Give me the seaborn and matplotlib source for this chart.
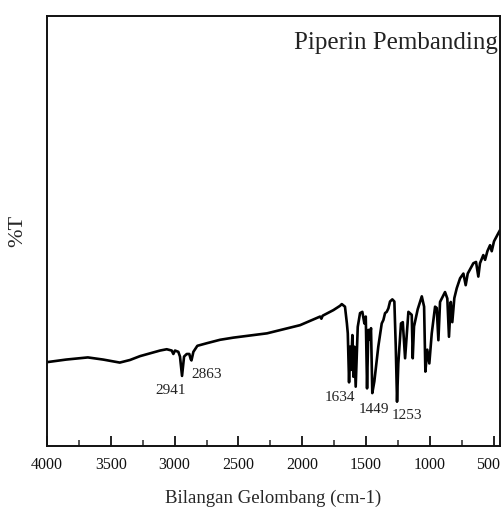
import matplotlib
matplotlib.use("Agg")
import matplotlib.pyplot as plt
import matplotlib.transforms as mtransforms
import seaborn as sns
from matplotlib.ticker import MultipleLocator

# wavenumber (cm-1) and %T
wavenumber = [4000, 3850, 3680, 3560, 3430, 3350, 3271, 3114, 3062, 3023,
              3010, 2997, 2971, 2958, 2942, 2926, 2905, 2885, 2874, 2868,
              2853, 2822, 2748, 2644, 2540, 2276, 2017, 1860, 1850, 1840,
              1756, 1704, 1690, 1665, 1650, 1643, 1633, 1625, 1618, 1607,
              1599, 1592, 1581, 1565, 1547, 1529, 1513, 1502, 1492, 1482,
              1474, 1461, 1451, 1435, 1404, 1377, 1364, 1351, 1338, 1325,
              1312, 1294, 1278, 1267, 1257, 1247, 1226, 1212, 1194, 1168,
              1142, 1134, 1124, 1095, 1063, 1045, 1035, 1020, 1004, 985,
              959, 946, 933, 920, 881, 863, 850, 836, 824, 808,
              789, 763, 737, 719, 703, 659, 638, 620, 607, 581,
              567, 549, 528, 515, 497, 463, 450]
transmittance = [19.5, 20.1, 20.6, 20.1, 19.4, 20.0, 20.9, 22.2, 22.5, 22.2,
                 21.4, 22.2, 21.9, 20.8, 16.3, 20.8, 21.4, 21.4, 20.2, 19.9,
                 21.9, 23.3, 23.9, 24.7, 25.2, 26.2, 28.1, 30.1, 29.6, 30.3,
                 31.6, 32.6, 33.0, 32.4, 28.5, 26.2, 14.8, 23.1, 17.7, 25.8,
                 16.1, 23.1, 13.8, 27.7, 30.9, 31.2, 28.5, 30.1, 13.4, 27.0,
                 24.7, 27.4, 12.3, 15.0, 23.1, 28.5, 29.3, 30.9, 31.2, 32.0,
                 33.6, 34.1, 33.6, 23.1, 10.3, 19.2, 28.5, 28.8, 20.4, 31.2,
                 30.5, 20.4, 27.8, 31.8, 34.8, 32.4, 17.3, 22.4, 19.2, 26.2,
                 32.4, 32.1, 24.6, 33.5, 35.8, 34.3, 25.4, 33.5, 28.8, 34.4,
                 36.7, 39.0, 40.1, 37.4, 40.1, 42.5, 42.8, 39.4, 42.5, 44.4,
                 43.3, 45.3, 46.7, 45.3, 47.6, 49.5, 50.2]

# peak labels: text, label x, label y
peak_labels = ["2941", "2863", "1634", "1449", "1253"]
label_x = [3028, 2750, 1708, 1441, 1179]
label_y = [12.8, 16.7, 11.2, 8.4, 7.2]

sns.set_style("white")
plt.rcParams['font.family'] = ['Liberation Serif', 'DejaVu Serif']

fig = plt.figure(figsize=(5.04, 5.11), dpi=100)
ax = fig.add_axes([0.0933, 0.1272, 0.8988, 0.8415])

sns.lineplot(x=wavenumber, y=transmittance, sort=False, estimator=None,
             color='black', linewidth=1.9, ax=ax)

for txt, lx, ly in zip(peak_labels, label_x, label_y):
    ax.text(lx, ly, txt, ha='center', va='center', fontsize=11, color='#222222')

ax.text(0.996, 0.937, "Piperin Pembanding", transform=ax.transAxes,
        ha='right', va='center', fontsize=18, color='#222222')

ax.set_xlim(4000, 450)
ax.set_ylim(0, 100)
ax.xaxis.set_major_locator(MultipleLocator(500))
ax.xaxis.set_minor_locator(MultipleLocator(250))
ax.set_yticks([])
ax.tick_params(axis='x', which='major', direction='in', length=7, width=1.3,
               labelsize=11.5, pad=8, colors='#111111', bottom=True)
ax.tick_params(axis='x', which='minor', direction='in', length=4, width=1.1,
               bottom=True)

# nudge the last tick label (500) so it stays inside the figure
fig.canvas.draw()
shift = mtransforms.ScaledTranslation(-4 / 72, 0, fig.dpi_scale_trans)
for lab in ax.get_xticklabels():
    if lab.get_text() == "500":
        lab.set_transform(lab.get_transform() + shift)

for s in ax.spines.values():
    s.set_color('#111111')
    s.set_linewidth(1.4)

ax.set_xlabel("Bilangan Gelombang (cm-1)", fontsize=13.5, labelpad=12)
ax.set_ylabel("%T", fontsize=16, labelpad=14)

fig.savefig("out.png", dpi=100)
